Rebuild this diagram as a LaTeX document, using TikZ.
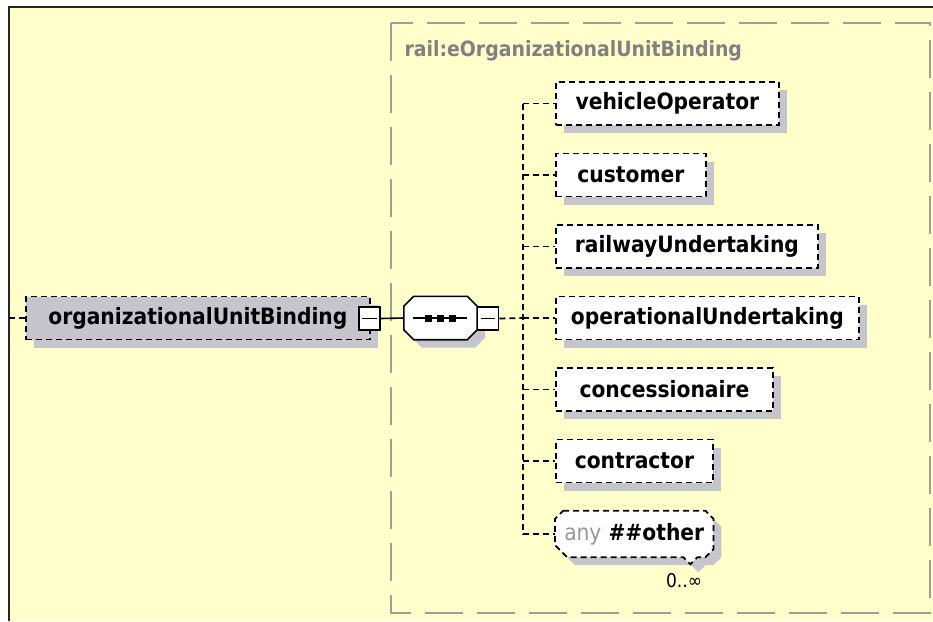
\documentclass[tikz,border=0pt]{standalone}
\usepackage{fontspec}
\setmainfont{DejaVu Sans Condensed}
\usetikzlibrary{shadows,calc}
\definecolor{bgyellow}{RGB}{255,255,204}
\definecolor{shgray}{RGB}{198,196,204}
\definecolor{boxgray}{RGB}{158,158,150}
\definecolor{lblgray}{RGB}{128,128,128}
\definecolor{anygray}{RGB}{150,150,150}
\pgfdeclarelayer{back}
\pgfdeclarelayer{mid}
\pgfsetlayers{back,mid,main}
\begin{document}
\begin{tikzpicture}[x=1pt,y=-1pt,
  conn/.style={draw=black, line width=1.8pt, dash pattern=on 6pt off 4pt},
  dropsh/.style={general shadow={fill=shgray, draw=none, shadow xshift=8pt, shadow yshift=-8pt}},
  childbox/.style={draw=black, fill=white, line width=1.8pt, dash pattern=on 6pt off 4pt,
    minimum height=43pt, inner sep=0pt, anchor=west,
    font=\fontsize{22.5}{26}\selectfont\bfseries, dropsh},
  minusbox/.style={draw=black, fill=white, line width=1.6pt, minimum width=21pt,
    minimum height=23pt, inner sep=0pt},
  solid line/.style={draw=black, line width=1.6pt}
]
\useasboundingbox (0,0) rectangle (933,621);
\begin{pgfonlayer}{back}
\fill[white] (0,0) rectangle (933,621);
\fill[bgyellow] (9,7) rectangle (933,621);
\draw[line width=2.5pt, black!85] (9,621) -- (9,7) -- (933,7);
\draw[boxgray, line width=2.2pt, dash pattern=on 38pt off 14pt] (391,23) rectangle (930,613);
\end{pgfonlayer}

\node[anchor=west, text=lblgray, font=\fontsize{21}{24}\selectfont\bfseries] (lbl) at (401,51) {rail:eOrganizationalUnitBinding};

% main element
\node[childbox, fill=shgray, minimum width=344pt] (main) at (25,318) {organizationalUnitBinding};
\node[minusbox] (m1) at (369.5,318.5) {};
\draw[solid line] ([xshift=4pt]m1.west) -- ([xshift=-4pt]m1.east);

% sequence compositor
\node[draw=none, minimum width=73pt, minimum height=43pt, inner sep=0pt] (seq) at (440.5,318) {};
\path[fill=white, solid line, dropsh]
  ([xshift=10pt]seq.north west) -- ([xshift=-10pt]seq.north east) --
  ([yshift=-10pt]seq.north east) -- ([yshift=10pt]seq.south east) --
  ([xshift=-10pt]seq.south east) -- ([xshift=10pt]seq.south west) --
  ([yshift=10pt]seq.south west) -- ([yshift=-10pt]seq.north west) -- cycle;
\draw[solid line] ([xshift=9pt]seq.west) -- ([xshift=-10pt]seq.east);
\foreach \dx in {-12,0,12}
  \fill[black] ([xshift=\dx pt]seq.center) ++(-3.5,-3.5) rectangle ++(7,7);
\node[minusbox] (m2) at (488,318.5) {};
\draw[solid line] ([xshift=4pt]m2.west) -- ([xshift=-4pt]m2.east);

% children
\node[childbox, minimum width=223pt] (vo) at (555,103.5) {vehicleOperator};
\node[childbox, minimum width=150pt] (cu) at (555,175) {customer};
\node[childbox, minimum width=262pt] (ru) at (555,246.5) {railwayUndertaking};
\node[childbox, minimum width=303pt] (ou) at (555,318) {operationalUndertaking};
\node[childbox, minimum width=217pt] (co) at (555,389.5) {concessionaire};
\node[childbox, minimum width=157pt] (ct) at (555,461) {contractor};

% any element
\node[draw=none, minimum width=158pt, minimum height=46pt, inner sep=0pt, anchor=west,
  font=\fontsize{22.5}{26}\selectfont\bfseries] (any) at (555,534)
  {{\color{anygray}\mdseries any} \#\#other};
\begin{pgfonlayer}{mid}
\path[fill=white, conn, dropsh]
  ([xshift=8pt]any.north west) -- ([xshift=-8pt]any.north east) --
  ([yshift=-8pt]any.north east) -- ([yshift=8pt]any.south east) --
  ([xshift=-8pt]any.south east) -- ([xshift=-16pt]any.south east) --
  ([xshift=-23pt,yshift=-7pt]any.south east) -- ([xshift=-30pt]any.south east) --
  ([xshift=12pt]any.south west) -- ([yshift=12pt]any.south west) --
  ([yshift=-8pt]any.north west) -- cycle;
\end{pgfonlayer}
\node[font=\fontsize{19}{22}\selectfont] (mult) at (684,581) {0..∞};

% connectors
\coordinate (lft) at (9,318);
\coordinate (bus) at (523,318);
\draw[conn] (lft) -- (main.west);
\draw[solid line] (m1.east) -- (seq.west);
\draw[conn] (m2.east) -- (bus);
\draw[conn] (bus |- vo.west) -- (bus |- any.west);
\foreach \c in {vo,cu,ru,ou,co,ct,any}
  \draw[conn] (bus |- \c.west) -- (\c.west);
\end{tikzpicture}
\end{document}
